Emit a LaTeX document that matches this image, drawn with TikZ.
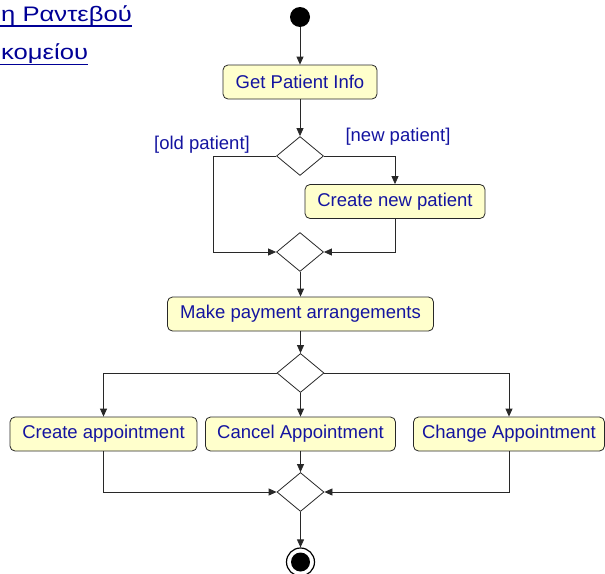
\documentclass[tikz,border=0pt]{standalone}
\usepackage{fontspec}
\setmainfont{Liberation Sans}
\usetikzlibrary{shapes.geometric,arrows.meta,calc}
\definecolor{txt}{RGB}{20,20,160}
\definecolor{hdr}{RGB}{0,0,150}
\definecolor{boxfill}{RGB}{255,255,204}
\definecolor{lncol}{RGB}{40,40,40}
\begin{document}
\begin{tikzpicture}[x=1pt,y=-1pt,
  act/.style={draw=lncol, line width=0.8pt, fill=boxfill, rounded corners=5pt,
    minimum height=34pt, inner sep=0pt, font=\fontsize{18.5}{20}\selectfont, text=txt},
  dec/.style={draw=lncol, line width=0.8pt, diamond, fill=white,
    minimum width=47pt, minimum height=39pt, inner sep=0pt},
  conn/.style={draw=lncol, line width=0.8pt},
  arr/.style={conn, -{Triangle[length=8pt,width=7pt]}},
  guard/.style={text=txt, inner sep=0pt, font=\fontsize{18.5}{20}\selectfont},
  head/.style={text=hdr, inner sep=0pt, font=\fontsize{21}{23}\selectfont, xscale=1.22}]
\useasboundingbox (0,0) rectangle (605,573);
\clip (0,0) rectangle (605,573);

% heading
\node[head, anchor=base west] (h1) at (1,21) {η Ραντεβού};
\node[head, anchor=base west] (h2) at (1,59.5) {κομείου};
\draw[hdr, line width=1.4pt] ($(h1.base west)+(-1,5)$) -- ($(h1.base east)+(0,5)$);
\draw[hdr, line width=1.4pt] ($(h2.base west)+(-1,5)$) -- ($(h2.base east)+(0,5)$);

% nodes
\node[circle, fill=black, minimum size=20pt, inner sep=0pt] (start) at (300,17) {};
\node[act, minimum width=154pt] (gpi) at (300,82) {Get Patient Info};
\node[dec] (d1) at (300,156) {};
\node[act, minimum width=180pt] (cnp) at (395,201.5) {Create new patient};
\node[dec] (m1) at (300,252) {};
\node[act, minimum width=266pt] (pay) at (300.5,314) {Make payment arrangements};
\node[dec] (d3) at (300.5,373) {};
\node[act, minimum width=187pt] (ca) at (103.5,434) {Create appointment};
\node[act, minimum width=190pt] (cla) at (300.5,434) {Cancel Appointment};
\node[act, minimum width=191pt] (cha) at (509,434) {Change Appointment};
\node[dec] (m2) at (300.5,492) {};
\node[circle, draw=black, line width=1.2pt, minimum size=28pt, inner sep=0pt] (fin) at (300.5,562) {};
\node[circle, fill=black, minimum size=19pt, inner sep=0pt] (finin) at (fin.center) {};

% guards
\node[guard] (gold) at (202,145) {[old patient]};
\node[guard] (gnew) at (398,137) {[new patient]};

% connectors
\coordinate (cold) at (213,156);
\draw[arr] (start) -- (gpi.north);
\draw[arr] (gpi.south) -- (d1.north);
\draw[arr] (d1.east) -| (cnp.north);
\draw[arr] (d1.west) -- (cold) |- (m1.west);
\draw[arr] (cnp.south) |- (m1.east);
\draw[arr] (m1.south) -- (pay.south |- m1.south) -- (pay.north);
\draw[arr] (pay.south) -- (d3.north);
\draw[arr] (d3.west) -| (ca.north);
\draw[arr] (d3.south) -- (cla.north);
\draw[arr] (d3.east) -| (cha.north);
\draw[arr] (ca.south) |- (m2.west);
\draw[arr] (cha.south) |- (m2.east);
\draw[arr] (cla.south) -- (m2.north);
\draw[arr] (m2.south) -- (fin.north);
\end{tikzpicture}
\end{document}
